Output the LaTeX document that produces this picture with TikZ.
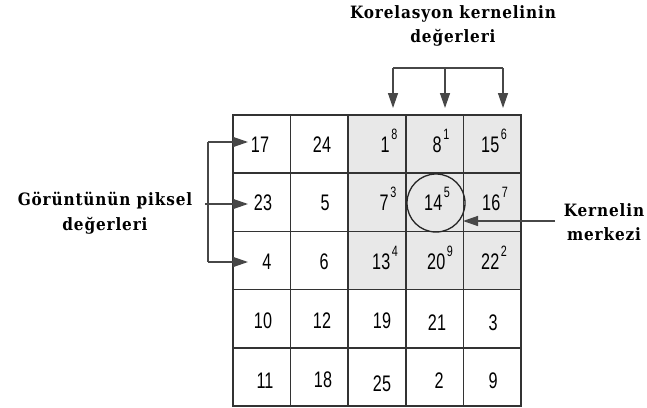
\documentclass[tikz,border=0pt]{standalone}
\usepackage{fontspec}
\setmainfont{Liberation Serif}
\newfontfamily\lblfont{DejaVu Serif Condensed}[LetterSpace=5]
\newfontfamily\numfont{Liberation Sans}[FakeStretch=0.72]
\usetikzlibrary{arrows.meta}
\newcommand{\kv}[2]{#1\hspace{1.5pt}\raisebox{13pt}{\fontsize{15}{15}\selectfont #2}}
\tikzset{
  cellbox/.style={draw=black!80, line width=1.6pt, minimum width=57.6pt, minimum height=58.2pt, inner sep=0pt, outer sep=0pt},
  shadebox/.style={cellbox, fill=black!9},
  num/.style={font=\numfont\fontsize{22.5}{22.5}\selectfont, anchor=base, inner sep=0pt},
  lbl/.style={font=\lblfont\bfseries\fontsize{17}{24.5}\selectfont, align=center, inner sep=0pt},
  conn/.style={draw=black!72, line width=1.4pt},
  arr/.style={conn, -{Triangle[length=15pt,width=10pt]}},
  ring/.style={draw=black!85, line width=1.3pt, circle, minimum size=58pt, inner sep=0pt}
}
\begin{document}
\begin{tikzpicture}[x=1pt,y=-1pt]
\useasboundingbox (0,0) rectangle (647,407);
% grid
\foreach \r in {1,...,5}{
  \foreach \c in {1,...,5}{
    \node[cellbox] (c\r\c) at ({233+57.6*(\c-0.5)},{115+58.2*(\r-0.5)}) {};
  }
}
\foreach \r in {1,2,3}{
  \foreach \c in {3,4,5}{
    \node[shadebox] (s\r\c) at ({233+57.6*(\c-0.5)},{115+58.2*(\r-0.5)}) {};
  }
}
% values
\node[num] (n11) at (260,152) {17};
\node[num] (n12) at (322,152) {24};
\node[num] (n13) at (389,152) {\kv{1}{8}};
\node[num] (n14) at (441,152) {\kv{8}{1}};
\node[num] (n15) at (494,152) {\kv{15}{6}};
\node[num] (n21) at (263,210) {23};
\node[num] (n22) at (325,210) {5};
\node[num] (n23) at (388,210) {\kv{7}{3}};
\node[num] (n24) at (437,210) {\kv{14}{5}};
\node[num] (n25) at (495,210) {\kv{16}{7}};
\node[num] (n31) at (267,269) {4};
\node[num] (n32) at (324,269) {6};
\node[num] (n33) at (385,269) {\kv{13}{4}};
\node[num] (n34) at (440,269) {\kv{20}{9}};
\node[num] (n35) at (494,269) {\kv{22}{2}};
\node[num] (n41) at (263,328) {10};
\node[num] (n42) at (322,328) {12};
\node[num] (n43) at (382,328) {19};
\node[num] (n44) at (437,330) {21};
\node[num] (n45) at (493,330) {3};
\node[num] (n51) at (265,388) {11};
\node[num] (n52) at (323,387) {18};
\node[num] (n53) at (382,391) {25};
\node[num] (n54) at (439,388) {2};
\node[num] (n55) at (493,388) {9};
% kernel centre circle
\node[ring] (ctr) at (436,203) {};
% labels
\node[lbl] (top) at (453,26) {Korelasyon kernelinin\\değerleri};
\node[lbl] (left) at (105,213) {Görüntünün piksel\\değerleri};
\node[lbl] (right) at (604,222) {Kernelin\\merkezi};
% top bracket
\coordinate (tl) at (393,68);
\coordinate (tm) at (445,68);
\coordinate (tr) at (503,68);
\coordinate (ta1) at (393,108);
\coordinate (ta2) at (445,108);
\coordinate (ta3) at (503,108);
\draw[conn] (tl) -- (tr);
\draw[arr] (tl) -- (ta1);
\draw[arr] (tm) -- (ta2);
\draw[arr] (tr) -- (ta3);
% left bracket
\coordinate (lt) at (208,142);
\coordinate (lb) at (208,262);
\coordinate (lm) at (205,204);
\coordinate (la1) at (248,142);
\coordinate (la2) at (248,204);
\coordinate (la3) at (248,262);
\draw[conn] (lt) -- (lb);
\draw[arr] (lt) -- (la1);
\draw[arr] (lm) -- (la2);
\draw[arr] (lb) -- (la3);
% right arrow
\coordinate (rs) at (555,221);
\coordinate (ra) at (463,221);
\draw[arr] (rs) -- (ra);
\end{tikzpicture}
\end{document}
